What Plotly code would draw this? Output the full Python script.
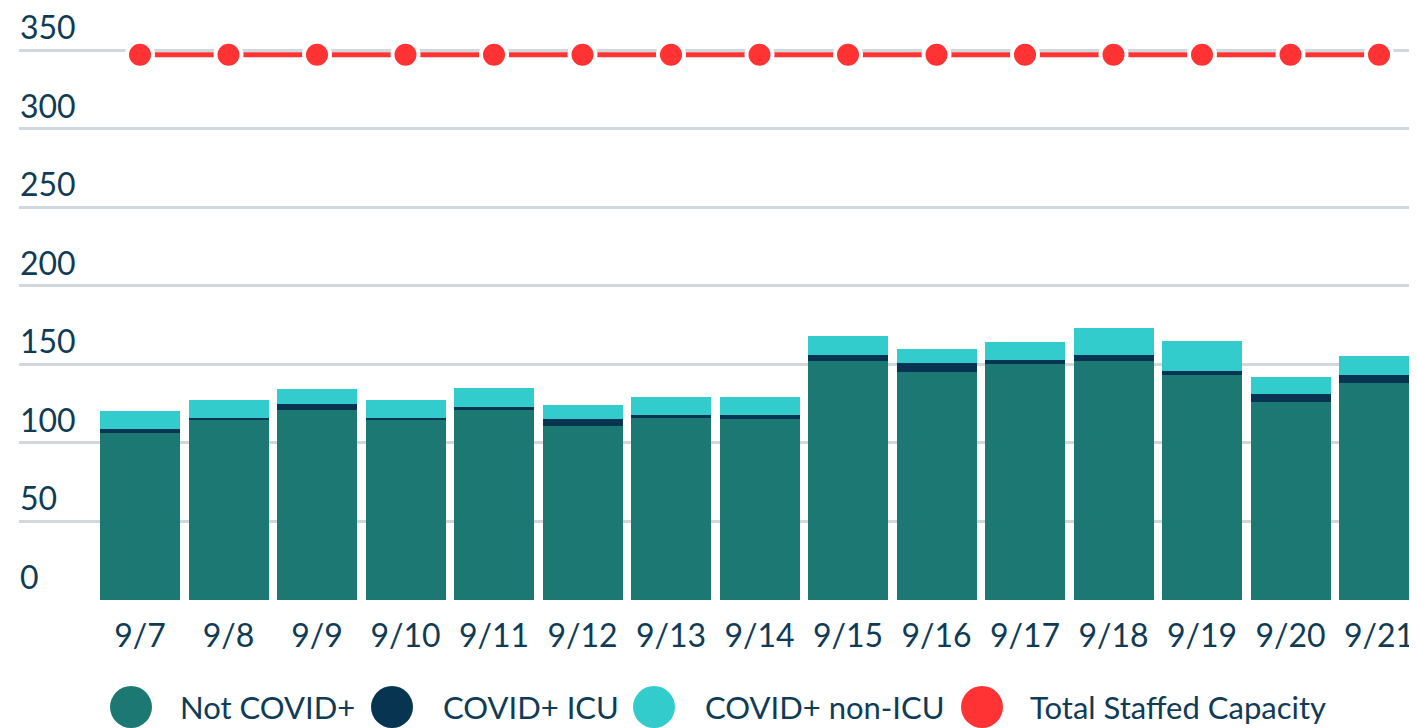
import plotly.graph_objects as go

dates = ["9/7", "9/8", "9/9", "9/10", "9/11", "9/12", "9/13", "9/14",
         "9/15", "9/16", "9/17", "9/18", "9/19", "9/20", "9/21"]
not_covid = [106, 115, 121, 115, 121, 111, 116, 115, 152, 145, 150, 152, 143, 126, 138]
covid_icu = [3, 1, 4, 1, 2, 4, 2, 3, 4, 6, 3, 4, 3, 5, 5]
covid_non_icu = [11, 11, 9, 11, 12, 9, 11, 11, 12, 9, 11, 17, 19, 11, 12]
capacity = [347] * 15
y_ticks = [0, 50, 100, 150, 200, 250, 300, 350]

C_NOT = "#1c7873"
C_ICU = "#073551"
C_NON = "#33cccc"
C_CAP = "#ff3333"
TXT = "#0f3b57"
FONT = "Lato"

# page is rendered with an 8px body margin
OFF = 8
PAGE_W, PAGE_H = 1417, 728
W, H = PAGE_W - OFF, PAGE_H - OFF

# plot area in page pixels
P_LEFT, P_RIGHT, P_TOP, P_BOTTOM = 19, 1417, OFF, 600
ML = P_LEFT - OFF
MR = 0
MT = 0
MB = H - (P_BOTTOM - OFF)
PW = P_RIGHT - P_LEFT
PH = P_BOTTOM - P_TOP

px_per_unit = 550 / 350
y_top = PH / px_per_unit

fig = go.Figure()
fig.add_bar(x=dates, y=not_covid, name="Not COVID+", marker_color=C_NOT,
            marker_line_width=0, showlegend=False)
fig.add_bar(x=dates, y=covid_icu, name="COVID+ ICU", marker_color=C_ICU,
            marker_line_width=0, showlegend=False)
fig.add_bar(x=dates, y=covid_non_icu, name="COVID+ non-ICU", marker_color=C_NON,
            marker_line_width=0, showlegend=False)
fig.add_scatter(x=dates, y=capacity, name="Total Staffed Capacity", mode="lines+markers",
                line=dict(color=C_CAP, width=5),
                marker=dict(color=C_CAP, size=26, line=dict(color="white", width=4)),
                showlegend=False)


def px(xp, yp):
    return (xp - P_LEFT) / PW, (P_BOTTOM - yp) / PH


shapes = []
annotations = []

# y tick labels, drawn above their gridlines
for v in y_ticks:
    annotations.append(dict(text=str(v), xref="paper", yref="y", x=0, y=v,
                            xanchor="left", yanchor="bottom", showarrow=False,
                            xshift=-1, yshift=2,
                            font=dict(family=FONT, size=32, color=TXT)))

legend_items = [("Not COVID+", C_NOT, 131, 180),
                ("COVID+ ICU", C_ICU, 392, 443),
                ("COVID+ non-ICU", C_NON, 654, 705),
                ("Total Staffed Capacity", C_CAP, 982, 1030)]
for label, col, cx, tx in legend_items:
    px_x, px_y = px(cx, 707)
    shapes.append(dict(type="circle", xref="paper", yref="paper",
                       xsizemode="pixel", ysizemode="pixel",
                       xanchor=px_x, yanchor=px_y, x0=-21, x1=21, y0=-21, y1=21,
                       fillcolor=col, line_width=0))
    ax, ay = px(tx, 707)
    annotations.append(dict(text=label, xref="paper", yref="paper", x=ax, y=ay,
                            xanchor="left", yanchor="middle", showarrow=False,
                            xshift=-2,
                            font=dict(family=FONT, size=31, color=TXT)))

step = 88.5
x0 = (P_LEFT - 140) / step
x1 = (P_RIGHT - 140) / step

fig.update_layout(
    width=W, height=H,
    margin=dict(l=ML, r=MR, t=MT, b=MB, pad=0),
    barmode="stack", bargap=0.096,
    plot_bgcolor="white", paper_bgcolor="white",
    font=dict(family=FONT, size=32, color=TXT),
    shapes=shapes, annotations=annotations,
    showlegend=False,
    xaxis=dict(type="category", range=[x0, x1], showgrid=False, showline=False,
               zeroline=False, ticks="", ticklabelstandoff=14,
               tickfont=dict(family=FONT, size=32, color=TXT)),
    yaxis=dict(range=[0, y_top], tickvals=y_ticks, showgrid=True, gridcolor="#d0d8de",
               gridwidth=3, zeroline=False, showline=False, ticks="",
               showticklabels=False),
)

fig.write_html("out.html")
